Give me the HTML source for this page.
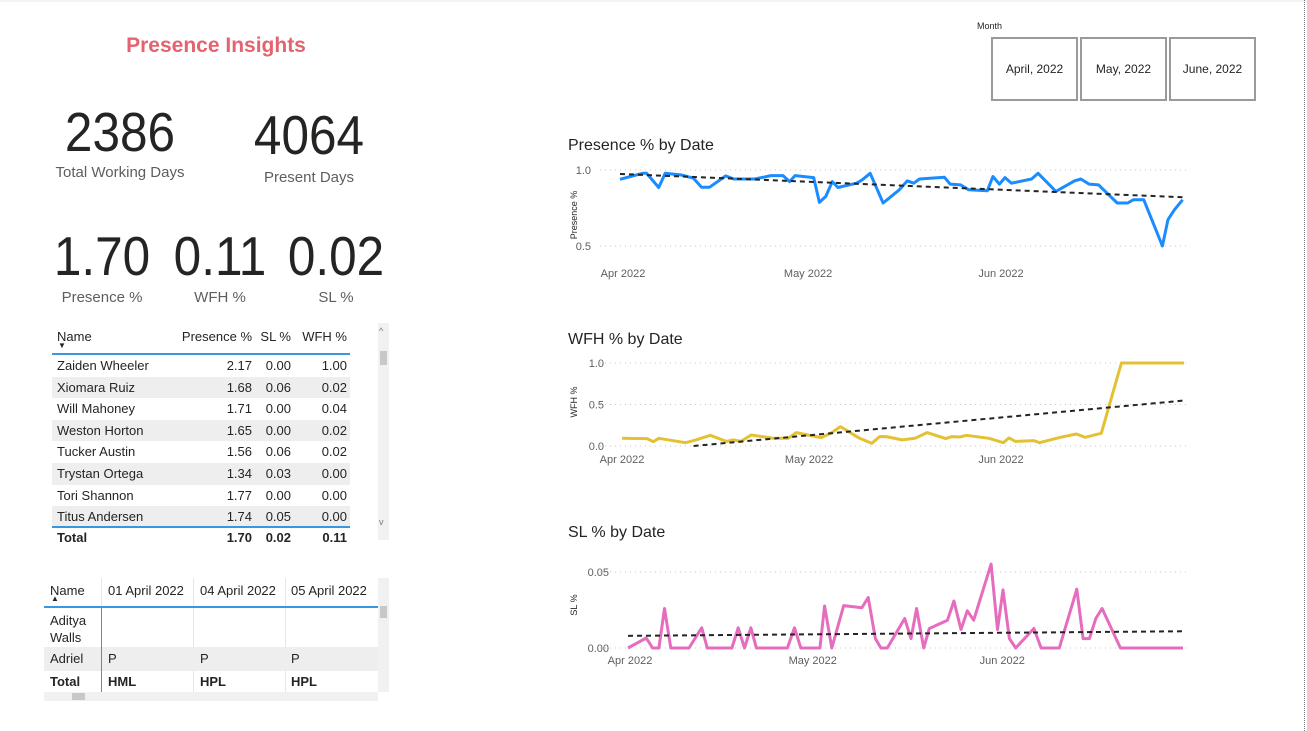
<!DOCTYPE html>
<html><head><meta charset="utf-8">
<style>
*{box-sizing:border-box;margin:0;padding:0}
body{width:1307px;height:731px;background:#fff;font-family:"Liberation Sans",sans-serif;position:relative;overflow:hidden;color:#252423}
.abs{position:absolute}
.big{position:absolute;font-size:55px;color:#252423;text-align:center;white-space:nowrap;transform:scaleX(0.9)}
.lbl{position:absolute;font-size:15px;color:#605e5c;text-align:center;white-space:nowrap}
.t1 div{position:absolute;font-size:13px;white-space:nowrap}
.ctitle{position:absolute;font-size:16px;color:#252423}
.mbox{position:absolute;top:37px;width:87px;height:64px;border:2px solid #9a9a9a;font-size:12px;display:flex;align-items:center;justify-content:center;color:#252423}
</style></head><body>
<div class="abs" style="left:0;top:0;width:1307px;height:2px;background:#f3f3f3"></div>
<div class="abs" style="left:1304px;top:0;height:731px;border-left:1px dotted #777"></div>

<div class="abs" style="left:100px;top:34px;width:232px;text-align:center;font-size:21px;font-weight:bold;color:#e4636f">Presence Insights</div>

<div class="big" style="left:40px;top:100px;width:160px">2386</div>
<div class="lbl" style="left:40px;top:164px;width:160px">Total Working Days</div>
<div class="big" style="left:229px;top:103px;width:160px">4064</div>
<div class="lbl" style="left:229px;top:169px;width:160px">Present Days</div>

<div class="big" style="left:42px;top:224px;width:120px">1.70</div>
<div class="lbl" style="left:42px;top:289px;width:120px">Presence %</div>
<div class="big" style="left:160px;top:224px;width:120px">0.11</div>
<div class="lbl" style="left:160px;top:289px;width:120px">WFH %</div>
<div class="big" style="left:276px;top:224px;width:120px">0.02</div>
<div class="lbl" style="left:276px;top:289px;width:120px">SL %</div>

<!-- Table 1 -->
<div class="t1">
<div style="left:57px;top:329px">Name</div>
<div style="left:58px;top:341px;font-size:8px">▼</div>
<div style="left:152px;top:329px;width:100px;text-align:right">Presence %</div>
<div style="left:251px;top:329px;width:40px;text-align:right">SL %</div>
<div style="left:297px;top:329px;width:50px;text-align:right">WFH %</div>
<div style="left:52px;top:353px;width:298px;height:2px;background:#3a96dd"></div>
<div id="rows"></div>
<div style="left:52px;top:526px;width:298px;height:2px;background:#3a96dd"></div>
<div style="left:57px;top:530px;font-weight:bold">Total</div>
<div style="left:152px;top:530px;width:100px;text-align:right;font-weight:bold">1.70</div>
<div style="left:251px;top:530px;width:40px;text-align:right;font-weight:bold">0.02</div>
<div style="left:297px;top:530px;width:50px;text-align:right;font-weight:bold">0.11</div>
<div style="left:378px;top:323px;width:11px;height:217px;background:#f1f1f1"></div>
<div style="left:380px;top:351px;width:7px;height:14px;background:#c8c8c8"></div>
<div style="left:379px;top:326px;font-size:9px;color:#777">^</div>
<div style="left:379px;top:517px;font-size:9px;color:#777">v</div>
</div>

<!-- Table 2 -->
<div class="t1">
<div style="left:50px;top:583px">Name</div>
<div style="left:51px;top:594px;font-size:8px">▲</div>
<div style="left:101px;top:578px;width:1px;height:114px;background:#e6e6e6"></div>
<div style="left:193px;top:578px;width:1px;height:114px;background:#e6e6e6"></div>
<div style="left:285px;top:578px;width:1px;height:114px;background:#e6e6e6"></div>
<div style="left:108px;top:583px">01 April 2022</div>
<div style="left:200px;top:583px">04 April 2022</div>
<div style="left:291px;top:583px">05 April 2022</div>
<div style="left:44px;top:606px;width:334px;height:2px;background:#3a96dd"></div>
<div style="left:101px;top:608px;width:1px;height:84px;background:#3a96dd"></div>
<div style="left:50px;top:612px;line-height:17px">Aditya<br>Walls</div>
<div style="left:44px;top:647px;width:334px;height:24px;background:#eeeeee"></div>
<div style="left:101px;top:647px;width:1px;height:24px;background:#3a96dd"></div>
<div style="left:50px;top:651px">Adriel</div>
<div style="left:108px;top:651px">P</div>
<div style="left:200px;top:651px">P</div>
<div style="left:291px;top:651px">P</div>
<div style="left:50px;top:674px;font-weight:bold">Total</div>
<div style="left:108px;top:674px;font-weight:bold">HML</div>
<div style="left:200px;top:674px;font-weight:bold">HPL</div>
<div style="left:291px;top:674px;font-weight:bold">HPL</div>
<div style="left:378px;top:578px;width:11px;height:114px;background:#f1f1f1"></div>
<div style="left:380px;top:606px;width:7px;height:12px;background:#c8c8c8"></div>
<div style="left:44px;top:692px;width:334px;height:9px;background:#f1f1f1"></div>
<div style="left:72px;top:693px;width:13px;height:7px;background:#c8c8c8"></div>
</div>

<!-- Month slicer -->
<div class="abs" style="left:977px;top:21px;font-size:9px;color:#252423">Month</div>
<div class="mbox" style="left:991px">April, 2022</div>
<div class="mbox" style="left:1080px">May, 2022</div>
<div class="mbox" style="left:1169px">June, 2022</div>

<div class="ctitle" style="left:568px;top:137px">Presence % by Date</div>
<div class="ctitle" style="left:568px;top:331px">WFH % by Date</div>
<div class="ctitle" style="left:568px;top:524px">SL % by Date</div>

<svg id="charts" class="abs" style="left:0;top:0" width="1307" height="731" font-family="Liberation Sans, sans-serif"></svg>

<script>
// Table data
const names=["Zaiden Wheeler","Xiomara Ruiz","Will Mahoney","Weston Horton","Tucker Austin","Trystan Ortega","Tori Shannon","Titus Andersen"];
const presVals=["2.17","1.68","1.71","1.65","1.56","1.34","1.77","1.74"];
const slVals=["0.00","0.06","0.00","0.00","0.06","0.03","0.00","0.05"];
const wfhVals=["1.00","0.02","0.04","0.02","0.02","0.00","0.00","0.00"];

// Chart data (x = working-day index from 1 Apr)
const monthTicks=[0,23.3,47.2];
const monthLabels=["Apr 2022","May 2022","Jun 2022"];
const presDays=[0,2.8,3.3,4.8,5.6,7.6,9.1,10.1,11.1,13.1,14.1,16.7,18.7,20.2,21,21.7,24,24.7,25.5,26.3,27,29.3,30,31,32.6,34.6,35.6,36.4,37.1,40.2,40.9,42.2,43.2,45.5,46.2,47,47.7,48.5,51,51.8,54,56.3,57.1,58.1,59.3,61.6,62.9,63.6,64.9,67.2,67.9,68.7,69.7];
const presValues=[.939,.978,.978,.885,.978,.967,.946,.887,.887,.961,.941,.941,.963,.963,.924,.963,.95,.787,.826,.924,.885,.913,.935,.978,.783,.870,.928,.913,.941,.952,.907,.902,.87,.863,.957,.907,.95,.913,.941,.978,.859,.928,.941,.907,.902,.783,.783,.804,.804,.5,.674,.739,.804];
const presTrend=[.974,.82];
const wfhDays=[0,3.1,3.9,4.6,7.9,9.2,11,13,13.8,14.8,16.1,18.9,20.7,21.7,24.8,26,27.2,29.6,31.1,32.1,32.9,34.9,36.5,38,40.3,41.1,42.1,42.9,45.7,47.5,48.2,49,51.3,52,54.6,56.6,57.7,59.7,62.2,70];
const wfhValues=[.093,.089,.052,.093,.04,.073,.129,.056,.073,.056,.133,.093,.093,.161,.101,.153,.234,.093,.032,.113,.113,.073,.093,.161,.089,.113,.109,.129,.093,.04,.097,.056,.065,.04,.105,.145,.105,.153,1,1];
const wfhTrend=[-0.08,0.548];
const slDays=[0,2.3,3.1,3.9,4.6,5.4,7.7,9.3,10,13.1,13.9,14.7,15.5,16.2,20.1,21,21.8,24.2,24.8,25.7,27.2,29.5,30.3,31.2,31.9,32.7,34.9,35.7,36.4,37.3,38,40.3,41.1,42,42.8,43.6,45.8,46.6,47.3,48.1,48.9,51.2,52.1,54.4,56.6,57.4,58.2,59,59.8,62.1,70];
const slValues=[0,.0066,0,0,.026,0,0,.0133,0,0,.0133,0,.0133,0,0,.0133,0,0,.0276,0,.0279,.0265,.0332,.0062,0,0,.0194,.0062,.026,0,.0128,.0183,.0309,.0122,.0245,.0183,.0552,.0122,.0382,.0062,0,.0128,0,0,.0387,.0062,.0062,.0194,.026,0,0];
const slTrend=[.008,.011];

const rows=document.getElementById('rows');
names.forEach((n,i)=>{
  const y=355+i*21.6;
  if(i%2===1){const b=document.createElement('div');
    
    
    b.style.cssText=`left:52px;top:${y}px;width:298px;height:21.6px;background:#eeeeee`;rows.appendChild(b);}
  const cells=[[n,57,null],[presVals[i],152,100],[slVals[i],251,40],[wfhVals[i],297,50]];
  cells.forEach((c,j)=>{const d=document.createElement('div');
    
    
    d.textContent=c[0];
    d.style.left=c[1]+'px';d.style.top=(y+3)+'px';
    if(c[2]){d.style.width=c[2]+'px';d.style.textAlign='right';}
    rows.appendChild(d);});
});

const NS='http://www.w3.org/2000/svg';
const svg=document.getElementById('charts');
function mk(t,a,p){const e=document.createElementNS(NS,t);for(const k in a)e.setAttribute(k,a[k]);(p||svg).appendChild(e);return e;}

function chart(o){
  const g=mk('g',{});
  
  
  const xs=d=>o.x0+(d-0)*(o.x1-o.x0)/70;
  const ys=v=>o.yb+(v-o.vmin)*(o.yt-o.yb)/(o.vmax-o.vmin);
  o.ticks.forEach((t,i)=>{
    const l=mk('line',{x1:600,x2:1190,y1:ys(t),y2:ys(t),stroke:'#c8c8c8','stroke-dasharray':'1 4'},g);
    
    
    const tx=mk('text',{x:o.tickX,y:ys(t)+4,'text-anchor':'end','font-size':11,fill:'#605e5c'},g);
    
    
    tx.textContent=o.tickLabels[i];
  });
  monthTicks.forEach((m,i)=>{
    const tx=mk('text',{x:xs(m)+(i===0?o.firstOff:0),y:o.xlabY,'text-anchor':'middle','font-size':11,fill:'#605e5c'},g);
    
    
    tx.textContent=monthLabels[i];
  });
  const at=mk('text',{transform:`translate(577,${o.titleY}) rotate(-90)`,'text-anchor':'middle','font-size':9,fill:'#252423'},g);
  
  
  at.textContent=o.axisTitle;
  const pts=o.days.map((d,i)=>xs(d).toFixed(1)+','+ys(o.vals[i]).toFixed(1)).join(' ');
  const pl=mk('polyline',{points:pts,fill:'none',stroke:o.color,'stroke-width':3,'stroke-linejoin':'round'},g);
  
  
  let d0=0,v0=o.trend[0];const d1=70,v1=o.trend[1];
  if(v0<o.vmin){d0=(o.vmin-v0)/(v1-v0)*70;v0=o.vmin;}
  const tl=mk('line',{x1:xs(d0),y1:ys(v0),x2:xs(d1),y2:ys(v1),stroke:'#252423','stroke-width':2,'stroke-dasharray':'5 4'},g);
  
  
}
chart({name:'presence-chart',x0:620,x1:1185,yt:170,yb:246,vmin:0.5,vmax:1,ticks:[0.5,1],tickLabels:['0.5','1.0'],tickX:591,xlabY:277,firstOff:3,titleY:215,axisTitle:'Presence %',days:presDays,vals:presValues,color:'#1a8cff',trend:presTrend});
chart({name:'wfh-chart',x0:622,x1:1184,yt:363,yb:446,vmin:0,vmax:1,ticks:[0,0.5,1],tickLabels:['0.0','0.5','1.0'],tickX:604,xlabY:463,firstOff:0,titleY:402,axisTitle:'WFH %',days:wfhDays,vals:wfhValues,color:'#e3c133',trend:wfhTrend});
chart({name:'sl-chart',x0:628,x1:1183,yt:572,yb:648,vmin:0,vmax:0.05,ticks:[0,0.05],tickLabels:['0.00','0.05'],tickX:609,xlabY:664,firstOff:2,titleY:605,axisTitle:'SL %',days:slDays,vals:slValues,color:'#e66cbd',trend:slTrend});
</script>
</body></html>
